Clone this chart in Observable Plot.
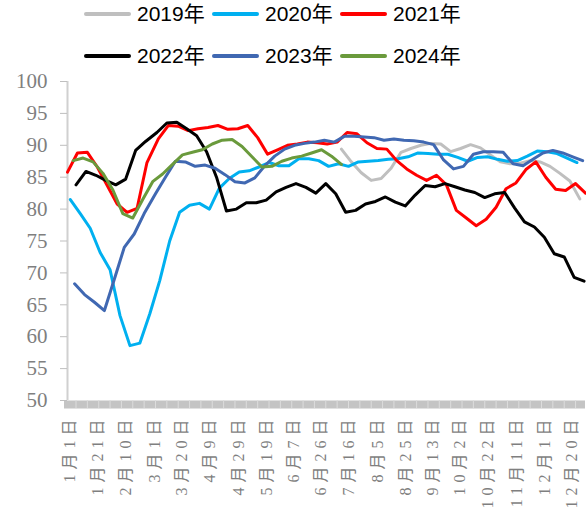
<!DOCTYPE html>
<html><head><meta charset="utf-8">
<script src="https://cdn.jsdelivr.net/npm/d3@7"></script>
<script src="https://cdn.jsdelivr.net/npm/@observablehq/plot@0.6"></script>
<style>
body{margin:0;background:#fff;width:586px;height:508px;overflow:hidden;position:relative;font-family:"Liberation Sans","Noto Sans CJK SC",sans-serif}
#legend{position:absolute;left:0;top:0;width:586px;height:75px}
.row{position:absolute;left:84px;display:flex;height:28px;align-items:center}
.item{display:flex;align-items:center;width:128px}
.sw{width:47px;height:4px;border-radius:2px;margin-right:6px;flex:none}
.lab{font-size:21px;color:#000;white-space:nowrap;line-height:28px}
#chart{position:absolute;left:0;top:75px}
</style></head><body>
<div id="legend"></div><div id="chart"></div>
<script>
// Series names and colours
const years = ["2019年","2020年","2021年","2022年","2023年","2024年"];
const colors = ["#bfbfbf","#00b0f0","#ff0000","#000000","#4068b2","#6a9a3c"];
// first weekly observation date of each series
const starts = ["2019-07-12","2020-01-03","2021-01-01","2022-01-07","2023-01-06","2024-01-05"];

// weekly values
const v2019 = [89.4,87.4,85.7,84.5,84.8,86.4,88.9,89.5,90.0,90.3,90.2,89.0,89.5,90.1,89.6,88.5,87.4,87.1,87.2,87.6,87.4,86.7,85.6,84.4,81.6];
const v2020 = [81.5,79.3,77.0,73.2,70.5,63.3,58.6,59.0,63.6,68.8,75.0,79.5,80.6,80.9,80.0,83.3,84.8,85.8,86.0,86.6,87.3,86.8,86.8,87.9,87.9,87.6,86.7,87.1,86.7,87.4,87.5,87.6,87.8,87.9,88.2,88.8,88.7,88.6,88.6,88.1,87.5,88.1,88.2,87.8,87.5,87.6,88.3,89.1,89.0,88.7,88.0,87.3];
const v2021 = [85.8,88.8,88.9,86.6,83.7,80.8,79.5,80.1,87.3,91.0,93.1,93.0,92.3,92.6,92.8,93.1,92.5,92.6,93.1,91.2,88.6,89.3,90.0,90.2,90.5,90.4,90.2,90.5,92.0,91.8,90.4,89.5,89.4,87.6,86.3,85.3,84.5,85.3,83.8,79.8,78.6,77.4,78.4,80.3,83.2,84.1,86.2,87.4,85.0,83.1,82.9,84.0,82.5];
const v2022 = [83.8,85.9,85.3,84.5,83.8,84.7,89.2,90.6,92.0,93.5,93.6,92.6,91.5,89.0,85.0,79.7,80.0,81.0,81.0,81.4,82.7,83.4,84.0,83.4,82.5,84.0,82.4,79.5,79.8,80.8,81.2,81.9,81.1,80.5,82.2,83.7,83.5,84.0,83.5,83.0,82.6,81.8,82.4,82.6,80.2,78.0,77.2,75.6,73.0,72.5,69.3,68.7];
const v2023 = [68.3,66.6,65.4,64.1,69.0,74.0,76.1,79.3,82.4,85.0,87.5,87.4,86.7,86.9,86.4,85.4,84.3,84.1,84.9,86.8,88.3,89.4,90.0,90.3,90.5,90.8,90.5,91.4,91.4,91.3,91.2,90.8,91.0,90.8,90.7,90.5,90.1,87.7,86.3,86.7,88.6,89.0,89.0,88.9,87.1,86.8,87.8,88.8,89.2,88.8,88.2,87.6];
const v2024 = [87.6,88.0,87.4,85.6,83.0,79.3,78.6,81.5,84.3,85.5,87.0,88.5,88.9,89.3,90.2,90.8,90.9,89.8,88.2,86.6,86.7,87.5,88.0,88.3,88.8,89.3,88.3,87.0];

// axis tick labels
const xTickLabels = ["1月1日","1月21日","2月10日","3月1日","3月20日","4月9日","4月29日","5月19日","6月7日","6月26日","7月16日","8月5日","8月25日","9月13日","10月2日","10月22日","11月11日","12月1日","12月20日"];
const yTicks = [50,55,60,65,70,75,80,85,90,95,100];

const series = [v2019,v2020,v2021,v2022,v2023,v2024];
const parse = d3.utcParse("%Y-%m-%d");
const toRef = d => new Date(Date.UTC(2020, d.getUTCMonth(), d.getUTCDate()));
const rows = [];
years.forEach((y,k)=>{
  const s = parse(starts[k]);
  series[k].forEach((v,i)=>rows.push({year:y, date:toRef(d3.utcDay.offset(s,7*i)), value:v}));
});
const xTicks = xTickLabels.map(l=>{const m=l.match(/(\d+)月(\d+)日/);return {date:new Date(Date.UTC(2020,+m[1]-1,+m[2])),label:l};});
const x0 = new Date(Date.UTC(2020,0,1)), x1 = new Date(Date.UTC(2020,11,31));
const minorTicks = d3.range(6,366,8).map(d=>d3.utcDay.offset(x0,d));

// legend
const leg = document.getElementById("legend");
[[0,1,2],[3,4,5]].forEach((idx,r)=>{
  const row = document.createElement("div");
  row.className="row"; row.style.top = (r===0?0:42)+"px";
  idx.forEach(k=>{
    const it=document.createElement("div"); it.className="item";
    it.innerHTML=`<span class="sw" style="background:${colors[k]}"></span><span class="lab">${years[k]}</span>`;
    row.appendChild(it);
  });
  leg.appendChild(row);
});

const chart = Plot.plot({
  width:586, height:433,
  marginLeft:67, marginRight:1, marginTop:6, marginBottom:108,
  style:{background:"#fff", overflow:"visible"},
  x:{type:"utc", domain:[x0,x1], axis:null},
  y:{domain:[50,100], axis:null},
  color:{domain:years, range:colors},
  marks:[
    Plot.ruleY([50],{stroke:"#c4c4c4", strokeWidth:8, dy:4, insetLeft:-3}),
    Plot.axisX({ticks:minorTicks, tickSize:8, tickFormat:()=>"", color:"#dcdcdc"}),
    Plot.ruleX([x0],{stroke:"#d0d0d0", strokeWidth:2}),
    Plot.axisY({ticks:yTicks, tickSize:7, tickFormat:()=>"", color:"#bfbfbf", label:null}),
    Plot.text(yTicks,{x:()=>x0, y:d=>d, text:d=>String(d), textAnchor:"end", dx:-20, fill:"#7f7f7f", fontSize:21, fontFamily:"Liberation Serif"}),
    Plot.text(xTicks,{x:"date", y:()=>50, text:"label", rotate:-90, textAnchor:"end", dy:14, dx:2, fill:"#7f7f7f", fontSize:16, fontFamily:"Liberation Serif, Noto Sans CJK SC", className:"xlab"}),
    Plot.line(rows,{x:"date", y:"value", z:"year", stroke:"year", strokeWidth:3, strokeLinejoin:"round"})
  ]
});
d3.select(chart).selectAll("text").filter(function(){const t=this.getAttribute("transform")||"";return t.includes("rotate");}).style("letter-spacing","5px");
document.getElementById("chart").appendChild(chart);
</script>
</body></html>
